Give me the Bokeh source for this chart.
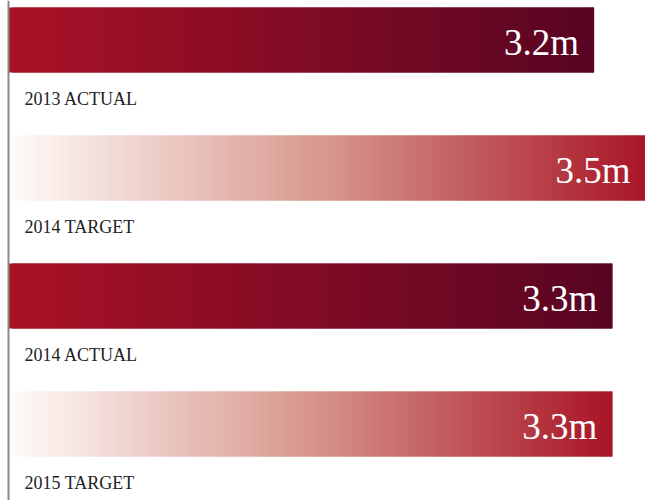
from bokeh.plotting import figure
from bokeh.models import Range1d, Span, ColumnDataSource
from bokeh.core.properties import value
from bokeh.embed import file_html
from bokeh.resources import INLINE

# ---- data ----
categories = ["2013 ACTUAL", "2014 TARGET", "2014 ACTUAL", "2015 TARGET"]
values = [3.2, 3.5, 3.3, 3.3]
kinds = ["actual", "target", "actual", "target"]
value_labels = ["3.2m", "3.5m", "3.3m", "3.3m"]

# ---- styles ----
gradients = {
    "actual": [(0.0, (170, 18, 38)), (1.0, (88, 5, 35))],
    "target": [(0.0, (255, 252, 250)), (0.5, (215, 150, 140)), (1.0, (168, 20, 38))],
}
N_SLICES = 160
BAR_TOP_OFF = 0.055
BAR_BOT_OFF = 0.5625
LABEL_OFF = 0.766
PX_PER_UNIT = 183.0


def interp(stops, t):
    for (t0, c0), (t1, c1) in zip(stops[:-1], stops[1:]):
        if t <= t1:
            f = 0 if t1 == t0 else (t - t0) / (t1 - t0)
            return "#%02x%02x%02x" % tuple(int(round(a + (b - a) * f)) for a, b in zip(c0, c1))
    c = stops[-1][1]
    return "#%02x%02x%02x" % c


p = figure(width=645, height=500, output_backend="svg", toolbar_location=None,
           x_axis_type=None, y_axis_type=None, min_border=0,
           x_range=Range1d(-8 / PX_PER_UNIT, 637 / PX_PER_UNIT),
           y_range=Range1d(500 / 128.0, 0))
p.outline_line_color = None
p.background_fill_color = "white"
p.border_fill_color = "white"
p.grid.visible = False

lefts, rights, tops, bottoms, colors = [], [], [], [], []
for i, (v, k) in enumerate(zip(values, kinds)):
    stops = gradients[k]
    step = v / N_SLICES
    for s in range(N_SLICES):
        l = s * step
        r = min(v, (s + 2) * step)
        lefts.append(l)
        rights.append(r)
        tops.append(i + BAR_TOP_OFF)
        bottoms.append(i + BAR_BOT_OFF)
        colors.append(interp(stops, (s + 0.5) / N_SLICES))

p.quad(left=lefts, right=rights, top=tops, bottom=bottoms,
       fill_color=colors, line_color=None)

idx = list(range(len(values)))
src = ColumnDataSource(dict(
    x=[min(v, 637 / PX_PER_UNIT) for v in values],
    y=[i + (BAR_TOP_OFF + BAR_BOT_OFF) / 2 for i in idx],
    t=value_labels,
    lx=[0] * len(values),
    ly=[i + LABEL_OFF for i in idx],
    lt=categories,
))

p.text(x="x", y="y", text="t", source=src, text_align="right",
       text_baseline="middle", x_offset=-15, y_offset=2,
       text_font=value("Liberation Serif"), text_font_size="37px",
       text_color="white")

p.text(x="lx", y="ly", text="lt", source=src, text_align="left",
       text_baseline="middle", x_offset=16,
       text_font=value("Liberation Serif"), text_font_size="18px",
       text_color="#222222")

p.add_layout(Span(location=0, dimension="height", line_color="#8a8a8a",
                  line_width=2))

open("out.html", "w").write(file_html(p, INLINE))
